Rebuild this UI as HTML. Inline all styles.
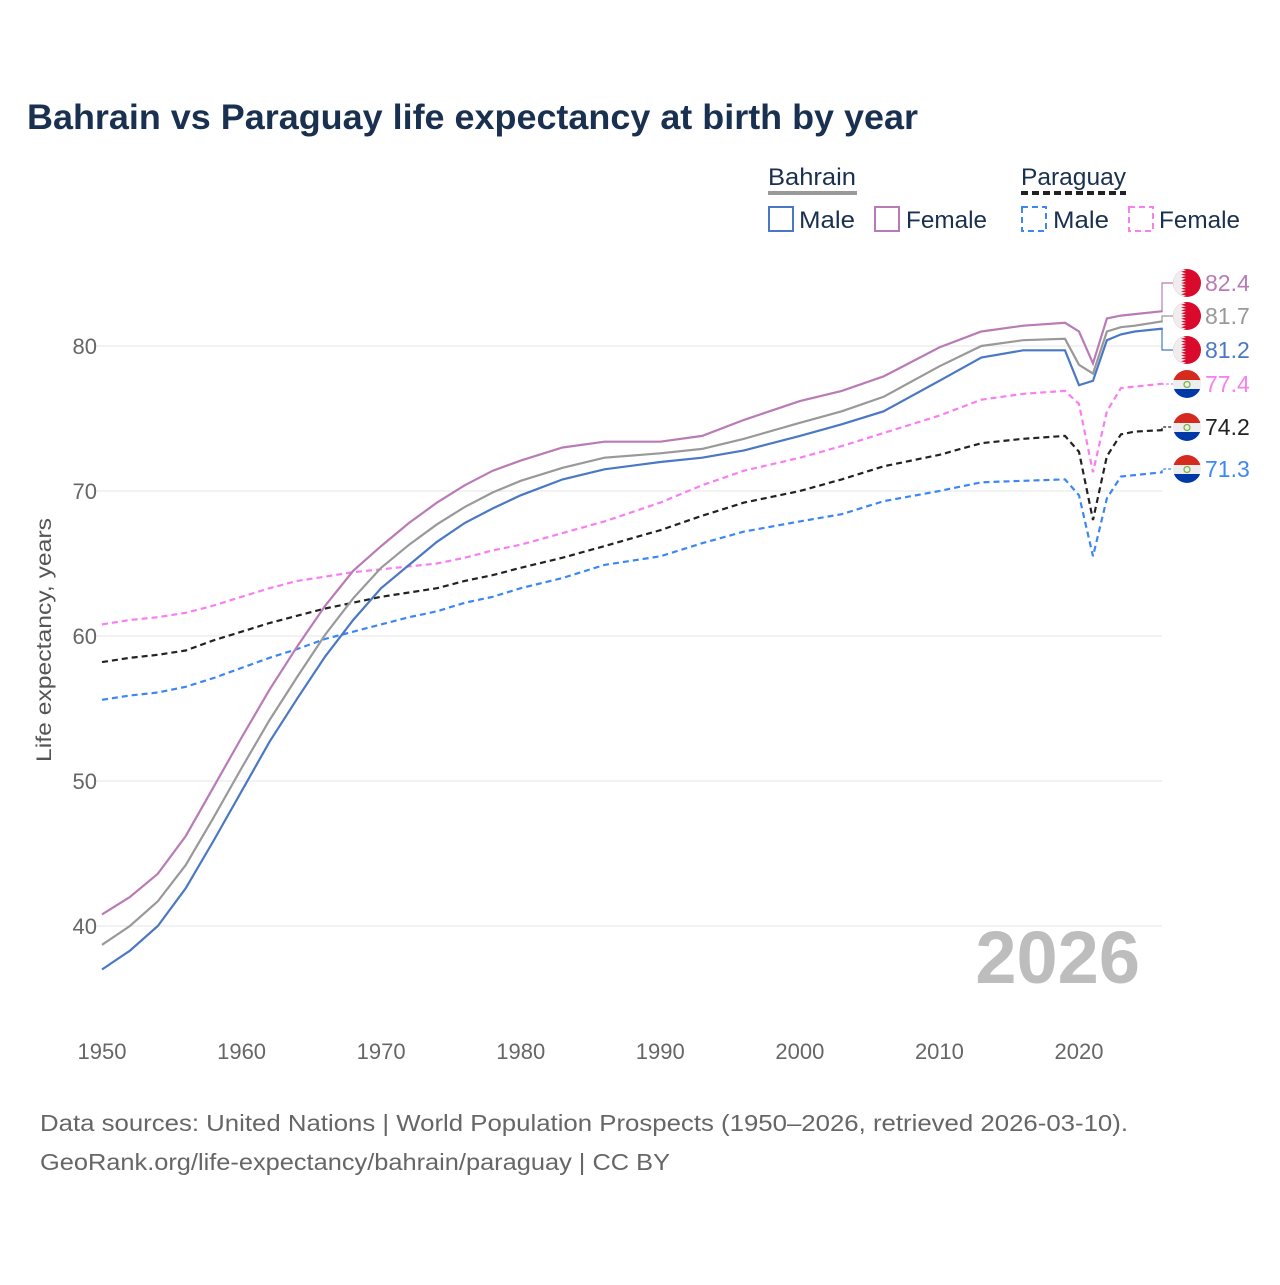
<!DOCTYPE html>
<html><head><meta charset="utf-8"><style>
body{margin:0;background:#fff;font-family:"Liberation Sans",sans-serif;}
</style></head><body>
<svg width="1280" height="1280" xmlns="http://www.w3.org/2000/svg" style="font-family:'Liberation Sans',sans-serif">
<defs>
<clipPath id="cc"><circle cx="0" cy="0" r="14"/></clipPath>
</defs>
<text x="27" y="129" font-size="35" font-weight="bold" fill="#1a3050" textLength="891" lengthAdjust="spacingAndGlyphs">Bahrain vs Paraguay life expectancy at birth by year</text>
<g>
<text x="768" y="185" font-size="24" fill="#1a3050" textLength="88" lengthAdjust="spacingAndGlyphs">Bahrain</text>
<line x1="768" y1="193" x2="857" y2="193" stroke="#999" stroke-width="4"/>
<rect x="769" y="207" width="24" height="24" fill="none" stroke="#4a78c4" stroke-width="2"/>
<text x="799" y="228" font-size="24" fill="#1a3050" textLength="56" lengthAdjust="spacingAndGlyphs">Male</text>
<rect x="875" y="207" width="24" height="24" fill="none" stroke="#b97bb5" stroke-width="2"/>
<text x="906" y="228" font-size="24" fill="#1a3050" textLength="81" lengthAdjust="spacingAndGlyphs">Female</text>
<text x="1021" y="185" font-size="24" fill="#1a3050" textLength="105" lengthAdjust="spacingAndGlyphs">Paraguay</text>
<line x1="1021" y1="193" x2="1126" y2="193" stroke="#222" stroke-width="4" stroke-dasharray="7,4"/>
<rect x="1022" y="207" width="24" height="24" fill="none" stroke="#3d87f5" stroke-width="2" stroke-dasharray="6,4"/>
<text x="1053" y="228" font-size="24" fill="#1a3050" textLength="56" lengthAdjust="spacingAndGlyphs">Male</text>
<rect x="1129" y="207" width="24" height="24" fill="none" stroke="#f97ef0" stroke-width="2" stroke-dasharray="6,4"/>
<text x="1159" y="228" font-size="24" fill="#1a3050" textLength="81" lengthAdjust="spacingAndGlyphs">Female</text>
</g>
<text transform="translate(51,640) rotate(-90)" text-anchor="middle" font-size="21" fill="#555" textLength="244" lengthAdjust="spacingAndGlyphs">Life expectancy, years</text>
<text x="1140" y="983" text-anchor="end" font-size="74" font-weight="bold" fill="#bdbdbd">2026</text>
<g id="grid"></g>
<g id="series"></g>
<g id="ends"></g>
<text x="40" y="1131" font-size="23" fill="#666" textLength="1088" lengthAdjust="spacingAndGlyphs">Data sources: United Nations | World Population Prospects (1950–2026, retrieved 2026-03-10).</text>
<text x="40" y="1170" font-size="23" fill="#666" textLength="630" lengthAdjust="spacingAndGlyphs">GeoRank.org/life-expectancy/bahrain/paraguay | CC BY</text>
</svg>
<script>
const years=[1950,1952,1954,1956,1958,1960,1962,1964,1966,1968,1970,1972,1974,1976,1978,1980,1983,1986,1990,1993,1996,2000,2003,2006,2010,2013,2016,2019,2020,2021,2022,2023,2024,2026];
const bahrainTotal=[38.7,40.0,41.7,44.2,47.5,50.9,54.2,57.2,60.1,62.6,64.7,66.3,67.7,68.9,69.9,70.7,71.6,72.3,72.6,72.9,73.6,74.7,75.5,76.5,78.6,80.0,80.4,80.5,78.7,78.1,81.0,81.3,81.4,81.7];
const bahrainMale=[37.0,38.3,40.0,42.6,45.9,49.3,52.7,55.7,58.6,61.1,63.3,64.9,66.5,67.8,68.8,69.7,70.8,71.5,72.0,72.3,72.8,73.8,74.6,75.5,77.6,79.2,79.7,79.7,77.3,77.6,80.4,80.8,81.0,81.2];
const bahrainFemale=[40.8,42.0,43.6,46.2,49.6,53.0,56.3,59.3,62.1,64.5,66.2,67.8,69.2,70.4,71.4,72.1,73.0,73.4,73.4,73.8,74.9,76.2,76.9,77.9,79.9,81.0,81.4,81.6,81.0,78.8,81.9,82.1,82.2,82.4];
const paraguayTotal=[58.2,58.5,58.7,59.0,59.7,60.3,60.9,61.4,61.9,62.3,62.7,63.0,63.3,63.8,64.2,64.7,65.4,66.2,67.3,68.3,69.2,70.0,70.8,71.7,72.5,73.3,73.6,73.8,72.7,68.0,72.4,73.9,74.1,74.2];
const paraguayMale=[55.6,55.9,56.1,56.5,57.1,57.8,58.5,59.1,59.8,60.3,60.8,61.3,61.7,62.3,62.7,63.3,64.0,64.9,65.5,66.4,67.2,67.9,68.4,69.3,70.0,70.6,70.7,70.8,69.7,65.5,69.5,71.0,71.1,71.3];
const paraguayFemale=[60.8,61.1,61.3,61.6,62.1,62.7,63.3,63.8,64.1,64.4,64.6,64.8,65.0,65.4,65.9,66.3,67.1,67.9,69.2,70.4,71.4,72.3,73.1,74.0,75.2,76.3,76.7,76.9,76.0,71.3,75.5,77.1,77.2,77.4];
const yTicks=[40,50,60,70,80];
const xTicks=[1950,1960,1970,1980,1990,2000,2010,2020];
const NS="http://www.w3.org/2000/svg";
const X=y=>102+(y-1950)*(977/70);
const Y=v=>346+(80-v)*14.5;
function mk(t,a,p){const e=document.createElementNS(NS,t);for(const k in a)e.setAttribute(k,a[k]);p.appendChild(e);return e;}
const grid=document.getElementById('grid');
yTicks.forEach(v=>{
 const l=mk('line',{x1:95,x2:1162,y1:Y(v),y2:Y(v),stroke:'#e6e6e6','stroke-width':1},grid);
 
 
 const t=mk('text',{x:97,y:Y(v)+8,'text-anchor':'end','font-size':22,fill:'#666'},grid);
 t.textContent=v;
 
 
});
xTicks.forEach(v=>{
 const t=mk('text',{x:X(v),y:1059,'text-anchor':'middle','font-size':22,fill:'#666'},grid);
 t.textContent=v;
 
 
});
const ser=document.getElementById('series');
const defs=[
 ['paraguay-female-line',paraguayFemale,'#f97ef0','6,4'],
 ['paraguay-male-line',paraguayMale,'#3d87f5','6,4'],
 ['paraguay-total-line',paraguayTotal,'#222','6,4'],
 ['bahrain-female-line',bahrainFemale,'#b97bb5',''],
 ['bahrain-total-line',bahrainTotal,'#999',''],
 ['bahrain-male-line',bahrainMale,'#4a78c4','']
];
defs.forEach(([n,d,c,da])=>{
 const p=mk('path',{d:d.map((v,i)=>(i?'L':'M')+X(years[i]).toFixed(1)+','+Y(v).toFixed(1)).join(''),fill:'none',stroke:c,'stroke-width':2.2,'stroke-dasharray':da},ser);
 
 
});
const ends=document.getElementById('ends');
const last=years.length-1;
const labels=[
 ['bahrain-female',bahrainFemale[last],283,'#b97bb5','bh',''],
 ['bahrain-total',bahrainTotal[last],316,'#999','bh',''],
 ['bahrain-male',bahrainMale[last],350,'#4a78c4','bh',''],
 ['paraguay-female',paraguayFemale[last],384,'#f97ef0','py','3,2'],
 ['paraguay-total',paraguayTotal[last],427,'#222','py','3,2'],
 ['paraguay-male',paraguayMale[last],469,'#3d87f5','py','3,2']
];
labels.forEach(([n,v,ly,c,f,da])=>{
 const x0=X(2026),y0=Y(v);
 const cn=mk('path',{d:`M${x0},${y0}H1162V${ly}H1174`,fill:'none',stroke:c,'stroke-width':1.2,'stroke-dasharray':da},ends);
 
 
 const g=mk('g',{transform:`translate(1187,${ly})`},ends);
 
 
 const gc=mk('g',{'clip-path':'url(#cc)'},g);
 if(f==='bh'){
  mk('rect',{x:-14,y:-14,width:28,height:28,fill:'#da0a2c'},gc);
  let pts='-14,-14 -6,-14';
  for(let i=0;i<5;i++){const yy=-14+i*5.6;pts+=` -1,${yy+1.4} -6,${yy+2.8} -1,${yy+4.2} -6,${yy+5.6}`;}
  pts+=' -14,14';
  mk('polygon',{points:pts,fill:'#eeeeee'},gc);
 }else{
  mk('rect',{x:-14,y:-14,width:28,height:10,fill:'#d52b1e'},gc);
  mk('rect',{x:-14,y:-4,width:28,height:9,fill:'#eeeeee'},gc);
  mk('rect',{x:-14,y:5,width:28,height:9,fill:'#0038a8'},gc);
  mk('circle',{cx:0,cy:0.5,r:3,fill:'none',stroke:'#7ab648','stroke-width':1.3},gc);
 }
 const t=mk('text',{x:1205,y:ly+8,'font-size':23,fill:c},ends);
 t.textContent=v.toFixed(1);
 
 
});
</script>
</body></html>
